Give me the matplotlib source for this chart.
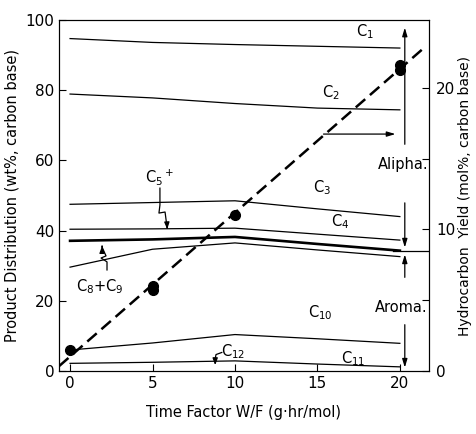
import numpy as np
import matplotlib
matplotlib.use("Agg")
import matplotlib.pyplot as plt

plt.rcParams['font.family'] = ['DejaVu Sans']

# datos del grafico
tiempo = [0, 5, 10, 15, 20]

# limites entre fracciones (wt%, eje izquierdo)
lim_c1 = [94.7, 93.6, 93.0, 92.5, 92.0]
lim_c2 = [78.9, 77.8, 76.2, 74.9, 74.4]
lim_c3 = [47.5, 48.0, 48.5, 46.2, 44.0]
lim_c4 = [40.4, 40.5, 40.7, 39.0, 37.3]
lim_alifa = [37.1, 37.5, 38.2, 36.2, 34.3]
lim_c89 = [29.6, 34.7, 36.5, 34.5, 32.6]
lim_c10 = [6.0, 8.0, 10.4, 9.2, 7.9]
lim_c11 = [2.2, 2.5, 2.9, 2.0, 1.2]

# rendimiento de hidrocarburos (mol%, eje derecho)
x_rend = [0, 5, 5, 10, 20, 20]
rend = [1.5, 6.0, 5.7, 11.0, 21.6, 21.3]

# figura
fig = plt.figure(figsize=(4.76, 4.34), dpi=100)
ax = fig.add_axes([0.124, 0.145, 0.777, 0.809])
ax.set_xlim(-0.67, 21.76)
ax.set_ylim(0, 100)

for lim in [lim_c1, lim_c2, lim_c3, lim_c4, lim_c89, lim_c10, lim_c11]:
    ax.plot(tiempo, lim, color="black", lw=0.9)
ax.plot(tiempo, lim_alifa, color="black", lw=1.9)

# etiquetas de las fracciones
fs = 10.5
ax.text(17.9, 96.6, "C$_1$", fontsize=fs, ha="center", va="center")
ax.text(15.8, 79.2, "C$_2$", fontsize=fs, ha="center", va="center")
ax.text(15.3, 52.1, "C$_3$", fontsize=fs, ha="center", va="center")
ax.text(16.4, 42.5, "C$_4$", fontsize=fs, ha="center", va="center")
ax.text(5.45, 55.3, "C$_5$$^+$", fontsize=fs, ha="center", va="center")
ax.text(1.8, 24.0, "C$_8$+C$_9$", fontsize=fs, ha="center", va="center")
ax.text(15.2, 16.5, "C$_{10}$", fontsize=fs, ha="center", va="center")
ax.text(17.2, 3.6, "C$_{11}$", fontsize=fs, ha="center", va="center")
ax.text(9.9, 5.6, "C$_{12}$", fontsize=fs, ha="center", va="center")
ax.text(20.2, 58.7, "Alipha.", fontsize=fs, ha="center", va="center")
ax.text(20.1, 18.2, "Aroma.", fontsize=fs, ha="center", va="center")

# flechas indicadoras
ax.plot([5.45, 5.45, 5.39, 5.76, 5.88], [52.1, 47.3, 45.0, 45.3, 41.0], color="black", lw=0.9)
ax.annotate("", xy=(5.9, 39.6), xytext=(5.88, 41.5),
            arrowprops=dict(arrowstyle="-|>,head_width=0.15,head_length=0.4", color="black", lw=0.9))
ax.plot([2.24, 2.24, 1.88, 2.18, 1.94], [28.8, 31.1, 32.2, 32.8, 35.3], color="black", lw=0.9)
ax.annotate("", xy=(1.94, 36.4), xytext=(1.94, 34.8),
            arrowprops=dict(arrowstyle="-|>,head_width=0.15,head_length=0.4", color="black", lw=0.9))
ax.plot([9.2, 8.85, 8.8], [5.3, 4.7, 3.5], color="black", lw=0.9)
ax.annotate("", xy=(8.8, 0.9), xytext=(8.8, 3.6),
            arrowprops=dict(arrowstyle="-|>,head_width=0.15,head_length=0.4", color="black", lw=0.9))

flecha = dict(arrowstyle="-|>,head_width=0.15,head_length=0.5", color="black", lw=0.9)
ax.annotate("", xy=(20.3, 98.6), xytext=(20.3, 63.8), arrowprops=flecha)
ax.annotate("", xy=(20.3, 34.4), xytext=(20.3, 48.7), arrowprops=flecha)
ax.annotate("", xy=(20.3, 34.0), xytext=(20.3, 25.9), arrowprops=flecha)
ax.annotate("", xy=(20.3, 0.2), xytext=(20.3, 14.0), arrowprops=flecha)
ax.plot([19.6, 21.76], [34.2, 34.2], color="black", lw=0.9)
ax.annotate("", xy=(19.9, 67.5), xytext=(15.2, 67.5), arrowprops=flecha)

# ejes
ax.set_xticks([0, 5, 10, 15, 20])
ax.set_yticks([0, 20, 40, 60, 80, 100])
ax.tick_params(direction="in", length=5, labelsize=11)
ax.set_xlabel("Time Factor W/F (g\u00b7hr/mol)", fontsize=10.5, labelpad=10)
ax.set_ylabel("Product Distribution (wt%, carbon base)", fontsize=10.5, labelpad=4)

# eje derecho: rendimiento
ax2 = ax.twinx()
ax2.set_ylim(0, 24.8)
ax2.plot(x_rend, rend, "o", color="black", markersize=7)
a, b = np.polyfit(x_rend, rend, 1)
xl = np.array([-0.67, 21.6])
ax2.plot(xl, a * xl + b, color="black", lw=1.8, dashes=(5, 2.5))
ax2.set_yticks([0, 5, 10, 15, 20])
ax2.set_yticklabels(["0", "", "10", "", "20"])
ax2.tick_params(direction="in", length=5, labelsize=11, pad=5)
ax2.set_ylabel("Hydrocarbon  Yield (mol%, carbon base)", fontsize=10, labelpad=2)

fig.savefig("out.png", dpi=100)
